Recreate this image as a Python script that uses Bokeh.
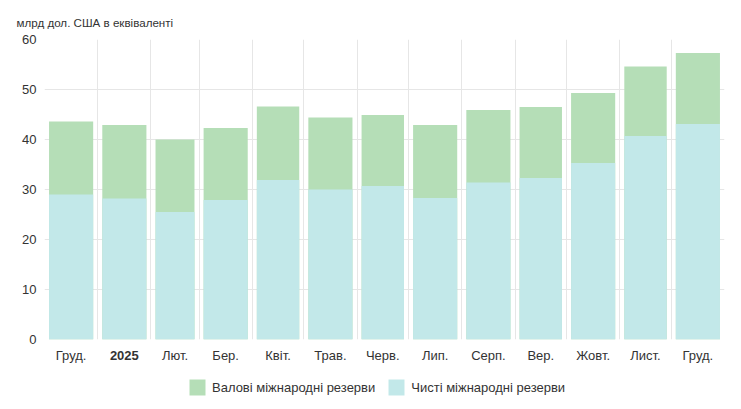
import pandas as pd
from bokeh.plotting import figure
from bokeh.layouts import column
from bokeh.models import ColumnDataSource, FixedTicker, Legend, LegendItem, Title, LinearAxis
from bokeh.embed import file_html
from bokeh.resources import INLINE

months = ["2024-12", "2025-01", "2025-02", "2025-03", "2025-04", "2025-05", "2025-06",
          "2025-07", "2025-08", "2025-09", "2025-10", "2025-11", "2025-12"]
tick_labels = ["Груд.", "2025", "Лют.", "Бер.", "Квіт.", "Трав.", "Черв.",
               "Лип.", "Серп.", "Вер.", "Жовт.", "Лист.", "Груд."]
gross = [43.6, 42.9, 40.0, 42.3, 46.6, 44.4, 44.9, 42.9, 45.9, 46.5, 49.3, 54.6, 57.3]
net = [29.0, 28.2, 25.5, 27.9, 31.9, 30.0, 30.7, 28.3, 31.4, 32.3, 35.3, 40.7, 43.1]
gross_name = "Валові міжнародні резерви"
net_name = "Чисті міжнародні резерви"
unit_title = "млрд дол. США в еквіваленті"

FONT = "Liberation Sans"
GREEN = "#b5deb7"
CYAN = "#c2e8e9"
TXT = "#333333"
GRID = "#e6e6e6"

origin = pd.Timestamp(months[0] + "-01")
starts = [pd.Timestamp(m + "-01") for m in months]
ends = [s + pd.offsets.MonthBegin(1) for s in starts]
start_d = [(s - origin).days for s in starts]
end_d = [(e - origin).days for e in ends]
mid_d = [(a + b) / 2 for a, b in zip(start_d, end_d)]
width_d = [(b - a) - 5.3 for a, b in zip(start_d, end_d)]

src = ColumnDataSource(dict(x=mid_d, w=width_d, gross=gross, net=net))

p = figure(frame_width=680, frame_height=300, output_backend="svg", toolbar_location=None,
           x_range=(start_d[0], end_d[-1]), y_range=(0, 60),
           min_border_left=44, min_border_right=17, min_border_top=39, min_border_bottom=30)
p.outline_line_color = None
p.background_fill_color = "white"
p.border_fill_color = "white"

r_g = p.vbar(x="x", width="w", top="gross", bottom=0, source=src, fill_color=GREEN, line_color=None)
r_n = p.vbar(x="x", width="w", top="net", bottom=0, source=src, fill_color=CYAN, line_color=None)

def style_axis(ax, standoff=8):
    ax.axis_line_color = None
    ax.major_tick_line_color = None
    ax.minor_tick_line_color = None
    ax.major_tick_out = 0
    ax.major_tick_in = 0
    ax.minor_tick_out = 0
    ax.minor_tick_in = 0
    ax.major_label_text_font = FONT
    ax.major_label_text_font_size = "13px"
    ax.major_label_text_color = TXT
    ax.major_label_standoff = standoff

p.yaxis.ticker = FixedTicker(ticks=[0, 10, 20, 30, 40, 50, 60])
style_axis(p.yaxis[0])

i25 = tick_labels.index("2025")
p.xaxis.ticker = FixedTicker(ticks=mid_d)
p.xaxis.major_label_overrides = {m: ("" if i == i25 else lab)
                                 for i, (m, lab) in enumerate(zip(mid_d, tick_labels))}
style_axis(p.xaxis[0])

# second axis carrying only the bold year label, pulled back up onto the same row
year_axis = LinearAxis(ticker=FixedTicker(ticks=[mid_d[i25]]),
                       major_label_overrides={mid_d[i25]: tick_labels[i25]})
style_axis(year_axis, standoff=-15)
year_axis.major_label_text_font_style = "bold"
p.add_layout(year_axis, "below")

p.xgrid.ticker = FixedTicker(ticks=start_d + [end_d[-1]])
p.xgrid.grid_line_color = GRID
p.ygrid.grid_line_color = GRID

t = Title(text=unit_title, align="left", offset=-28, text_font=FONT, text_font_size="11.6px",
          text_color=TXT, text_font_style="normal", standoff=22)
p.add_layout(t, "above")

# legend strip below the chart (same data, bars kept entirely out of its view)
lf = figure(width=741, height=40, output_backend="svg", toolbar_location=None,
            x_range=(-20, -10), y_range=(100, 101), min_border=0)
lf.axis.visible = False
lf.grid.visible = False
lf.outline_line_color = None
lf.background_fill_color = "white"
lf.border_fill_color = "white"
lg = lf.vbar(x="x", width="w", top="gross", bottom=0, source=src, fill_color=GREEN, line_color=None)
ln = lf.vbar(x="x", width="w", top="net", bottom=0, source=src, fill_color=CYAN, line_color=None)

legend = Legend(items=[LegendItem(label=gross_name, renderers=[lg]),
                       LegendItem(label=net_name, renderers=[ln])],
                orientation="horizontal", location=(143, 12),
                label_text_font=FONT, label_text_font_size="13px", label_text_color=TXT,
                glyph_width=20, glyph_height=20, label_standoff=5, spacing=11,
                border_line_color=None, background_fill_alpha=0, padding=0, margin=0)
lf.add_layout(legend)

layout = column(p, lf, spacing=0)
open("out.html", "w").write(file_html(layout, INLINE))
